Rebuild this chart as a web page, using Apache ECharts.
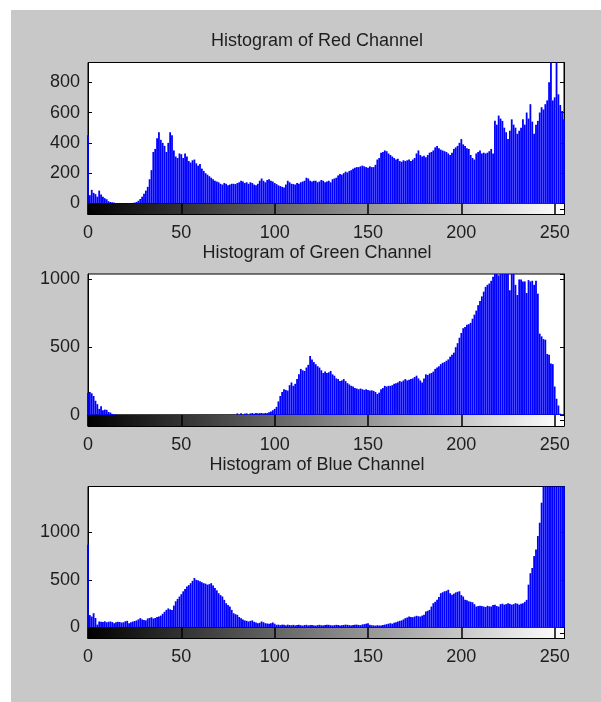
<!DOCTYPE html>
<html>
<head>
<meta charset="utf-8">
<script src="https://cdn.jsdelivr.net/npm/echarts@6/dist/echarts.min.js"></script>
<style>
  html, body { margin: 0; padding: 0; background: #ffffff; }
  #bg { position: absolute; left: 11px; top: 10px; width: 590px; height: 692px; background: #c8c8c8; }
  #chart { position: absolute; left: 0; top: 0; width: 601px; height: 702px; }
</style>
</head>
<body>
<div id="bg"></div>
<div id="chart"></div>
<script>
// ---- data ----
const titles = ['Histogram of Red Channel', 'Histogram of Green Channel', 'Histogram of Blue Channel'];
const grayRange = [0, 255];

const red = [
  450,55,90,70,62,45,85,60,45,35,28,15,10,8,6,4,
  3,2,2,1,2,2,3,2,4,6,10,18,30,45,65,85,
  110,160,220,340,360,430,470,420,400,380,340,400,470,450,350,310,
  300,330,325,300,330,310,280,270,285,290,265,250,260,230,215,200,
  190,180,170,160,150,145,140,130,125,135,130,120,125,130,130,128,
  135,140,150,145,135,140,130,140,135,125,120,130,150,165,150,140,
  155,160,150,145,135,128,120,115,110,105,125,150,140,130,128,125,
  135,130,140,145,150,170,165,150,145,150,150,140,145,155,150,140,
  145,150,140,160,165,170,185,195,190,200,210,205,215,220,230,235,
  240,240,245,250,245,240,235,245,240,240,255,290,300,335,340,350,
  345,330,320,310,300,290,295,280,275,285,280,285,290,280,290,300,
  330,350,320,310,315,305,320,335,340,350,370,380,365,355,350,345,
  340,330,320,335,360,370,380,400,425,390,380,365,360,320,300,290,
  330,340,350,330,335,330,335,345,360,330,545,520,580,560,545,500,
  470,425,480,555,520,500,460,480,500,555,520,600,560,655,540,460,
  520,545,600,635,620,655,680,800,1000,680,700,950,720,650,610,555
];
const green = [
  165,170,160,140,105,80,45,65,35,40,38,22,18,8,3,1,
  0,0,0,0,0,0,0,0,0,0,0,0,0,0,0,0,
  0,0,0,0,0,0,0,0,0,0,0,0,0,0,0,0,
  0,0,0,0,0,0,0,0,0,0,0,0,0,0,0,0,
  0,0,0,0,0,0,0,0,0,0,0,0,0,0,0,0,
  12,0,12,0,10,12,0,12,14,10,15,12,14,15,12,15,
  14,20,25,35,45,60,100,140,170,190,185,180,220,240,215,230,
  265,300,340,330,325,350,370,435,410,390,375,360,350,330,310,320,
  310,315,325,300,290,270,265,250,255,265,250,235,225,215,210,200,
  195,190,195,190,185,190,185,180,182,178,170,155,165,190,200,215,
  210,215,215,220,230,235,240,250,245,255,265,255,260,265,270,280,
  290,270,255,240,270,300,295,305,310,320,340,350,360,375,385,390,
  400,410,430,445,460,500,530,570,605,640,650,665,670,680,710,740,
  770,810,840,875,910,945,960,970,990,1020,1050,1060,1030,1045,1060,1050,
  1055,1045,920,1050,1060,960,885,1000,1000,985,985,900,995,985,990,960,
  990,895,600,580,560,555,450,445,380,375,210,120,70,10,2,0
];
const blue = [
  870,130,115,150,100,30,63,60,58,65,55,60,63,58,45,55,
  60,58,52,55,65,70,45,55,62,68,74,85,98,85,80,75,
  95,100,108,95,100,110,115,125,144,165,185,200,190,185,230,275,
  300,325,350,380,405,430,445,465,490,520,500,495,485,475,465,460,
  450,455,465,440,415,390,360,340,325,290,255,235,220,185,150,140,
  133,110,98,85,74,70,63,70,74,60,53,45,50,63,55,45,
  42,39,45,53,40,28,30,25,30,28,22,30,26,24,28,22,
  26,30,24,20,26,28,22,25,27,22,20,25,28,24,22,26,
  30,28,24,22,25,28,26,22,24,27,30,28,25,22,26,28,
  30,27,25,32,35,40,45,28,24,22,20,24,21,22,25,30,
  35,40,45,40,50,55,63,70,74,85,98,105,115,110,108,115,
  123,118,115,125,133,168,175,185,220,255,270,290,320,360,370,380,
  385,396,360,345,355,368,375,380,340,325,290,285,275,270,265,245,
  220,225,228,225,220,215,228,222,220,235,240,225,220,245,250,240,
  245,255,248,240,245,255,250,240,248,255,270,290,450,570,625,750,
  820,960,1100,1310,1550,1700,1900,2100,2300,2400,2500,2600,2500,2400,2300,2200
];
const channels = [red, green, blue];
const yMax = [930, 1040, 1480];
const yInterval = [200, 500, 500];

// ---- layout / style ----
const gridLeft = 88, gridWidth = 476, histH = 141, cbarH = 11;
const tops = [62.5, 274, 486.5];
const titleTops = [27, 239, 451];
const FONT = '"Liberation Sans", Arial, sans-serif';
const TXT = '#1e1e1e';

const chart = echarts.init(document.getElementById('chart'), null, { renderer: 'canvas' });

const grid = [], xAxis = [], yAxis = [], series = [], title = [];
channels.forEach((vals, p) => {
  const top = tops[p];
  grid.push({ left: gridLeft, width: gridWidth, top: top, height: histH, show: true,
              backgroundColor: '#ffffff', borderColor: '#000', borderWidth: 1 });
  grid.push({ left: gridLeft, width: gridWidth, top: top + histH, height: cbarH, show: true,
              backgroundColor: 'transparent', borderColor: '#000', borderWidth: 1 });
  title.push({ text: titles[p], left: 312, top: titleTops[p], textAlign: 'center',
               textStyle: { fontFamily: FONT, fontSize: 18, fontWeight: 'normal', color: TXT } });
  xAxis.push({ type: 'value', gridIndex: 2 * p, min: 0, max: 255, interval: 50, position: 'top',
               axisLine: { show: true, lineStyle: { color: '#000', width: 1 } },
               axisTick: { show: true, inside: true, length: 4, lineStyle: { color: '#000' } },
               axisLabel: { show: false }, splitLine: { show: false } });
  xAxis.push({ type: 'value', gridIndex: 2 * p + 1, min: 0, max: 255, interval: 50, position: 'bottom', z: 5,
               axisLine: { show: true, lineStyle: { color: '#000', width: 1 } },
               axisTick: { show: true, inside: true, length: cbarH, lineStyle: { color: '#000', width: 1.5 } },
               axisLabel: { show: true, margin: 10, fontFamily: FONT, fontSize: 18, color: TXT,
                            showMaxLabel: false, formatter: v => String(v) },
               splitLine: { show: false } });
  yAxis.push({ type: 'value', gridIndex: 2 * p, min: 0, max: yMax[p], interval: yInterval[p], position: 'left',
               axisLine: { show: true, lineStyle: { color: '#000', width: 1 } },
               axisTick: { show: true, inside: true, length: 4, lineStyle: { color: '#000' } },
               axisLabel: { show: true, margin: 8, fontFamily: FONT, fontSize: 18, color: TXT,
                            showMaxLabel: false, formatter: v => String(v) },
               splitLine: { show: false } });
  yAxis.push({ type: 'value', gridIndex: 2 * p, min: 0, max: yMax[p], interval: yInterval[p], position: 'right',
               axisLine: { show: true, lineStyle: { color: '#000', width: 1 } },
               axisTick: { show: true, inside: true, length: 4, lineStyle: { color: '#000' } },
               axisLabel: { show: false }, splitLine: { show: false } });
  yAxis.push({ type: 'value', gridIndex: 2 * p + 1, min: 0, max: 1, interval: 0.5, position: 'left',
               axisLine: { show: true, lineStyle: { color: '#000' } }, axisTick: { show: false },
               axisLabel: { show: false }, splitLine: { show: false } });
  yAxis.push({ type: 'value', gridIndex: 2 * p + 1, min: 0, max: 1, interval: 0.5, position: 'right', z: 5,
               axisLine: { show: true, lineStyle: { color: '#000' } },
               axisTick: { show: true, inside: true, length: 4, lineStyle: { color: '#000' } },
               axisLabel: { show: false }, splitLine: { show: false } });

  series.push({
    type: 'bar', xAxisIndex: 2 * p, yAxisIndex: 4 * p,
    data: vals.map((v, i) => [i, v]),
    barWidth: 1.8, itemStyle: { color: '#0000ff' }, clip: true, silent: true
  });
  series.push({
    type: 'custom', xAxisIndex: 2 * p + 1, yAxisIndex: 4 * p + 2, clip: true, silent: true,
    data: [grayRange],
    renderItem: function (params, api) {
      const a = api.coord([api.value(0), 1]);
      const b = api.coord([api.value(1), 0]);
      return { type: 'rect', shape: { x: a[0], y: a[1], width: b[0] - a[0], height: b[1] - a[1] },
               style: { fill: new echarts.graphic.LinearGradient(0, 0, 1, 0,
                 [{ offset: 0, color: '#000000' }, { offset: 1, color: '#ffffff' }]) } };
    }
  });
});

chart.setOption({
  animation: false,
  backgroundColor: 'transparent',
  title: title, grid: grid, xAxis: xAxis, yAxis: yAxis, series: series
});
</script>
</body>
</html>
